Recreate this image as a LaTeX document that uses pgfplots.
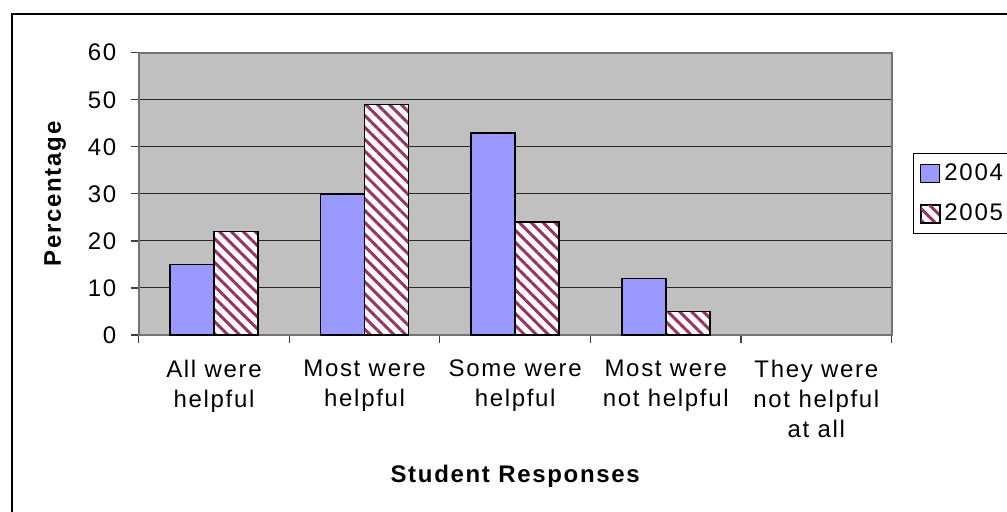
\documentclass[border=0pt]{standalone}
\usepackage{fontspec}
\setmainfont{Liberation Sans}[LetterSpace=7]
\usepackage{pgfplots}
\pgfplotsset{compat=1.18}
\usetikzlibrary{patterns.meta}
\definecolor{barblue}{HTML}{9999FF}
\definecolor{hatchc}{HTML}{993366}
\definecolor{plotbg}{HTML}{C0C0C0}
\newcommand\lblfont{\fontsize{12pt}{15pt}\selectfont}
\begin{document}
\begin{tikzpicture}
\useasboundingbox (0,0) rectangle (503.5pt,255.5pt);
% outer chart frame (cut off at right and bottom)
\draw[line width=1pt] (6pt,-20pt) -- (6pt,248.5pt) -- (560pt,248.5pt);
\begin{axis}[
  at={(69.35pt,88pt)}, anchor=south west,
  scale only axis, width=376.5pt, height=141.15pt,
  xmin=-0.5, xmax=4.5, ymin=0, ymax=60,
  ybar=0pt, bar width=22pt,
  axis background/.style={fill=plotbg},
  axis line style={draw=black!55, line width=0.9pt},
  ymajorgrids, major grid style={draw=black!85, line width=0.5pt},
  ytick={0,10,...,60},
  xtick pos=bottom, ytick pos=left,
  tick align=outside, major tick length=4pt,
  tick style={draw=black!75, line width=0.6pt},
  xtick={-0.5,0.5,...,4.5}, xticklabels={},
  extra x ticks={0,1,2,3,4},
  extra x tick labels={{All were\\helpful},{Most were\\helpful},{Some were\\helpful},{Most were\\not helpful},{They were\\not helpful\\at all}},
  extra x tick style={major tick length=0pt},
  xticklabel style={align=center, inner sep=0pt, anchor=north, yshift=-12.3pt, font=\lblfont},
  yticklabel style={inner sep=0pt, anchor=east, xshift=-7pt, font=\lblfont},
  /pgf/number format/assume math mode=true,
  xlabel={Student Responses},
  xlabel style={font=\lblfont\bfseries, at={(axis description cs:0.5,-0.524)}, anchor=base},
  ylabel={Percentage},
  ylabel style={font=\lblfont\bfseries, at={(axis description cs:-0.111,0.5)}, anchor=center},
  legend style={at={(axis description cs:1.028,0.643)}, anchor=north west,
     draw=black, line width=0.5pt, fill=white, font=\lblfont,
     inner xsep=3.5pt, inner ysep=3pt, row sep=6pt},
  legend cell align=left,
  legend image code/.code={\draw[#1, line width=0.6pt] (0pt,-4.5pt) rectangle (9.5pt,4.5pt);},
]
\addplot[fill=barblue, draw=black, line width=0.9pt]
  coordinates {(0,15) (1,30) (2,43) (3,12)};
\addplot[preaction={fill=white}, pattern={Lines[angle=-45,distance=4.2pt,line width=1.5pt]}, pattern color=hatchc, draw=black, line width=0.9pt]
  coordinates {(0,22) (1,49) (2,24) (3,5)};
\legend{2004,2005}
\end{axis}
\end{tikzpicture}
\end{document}
